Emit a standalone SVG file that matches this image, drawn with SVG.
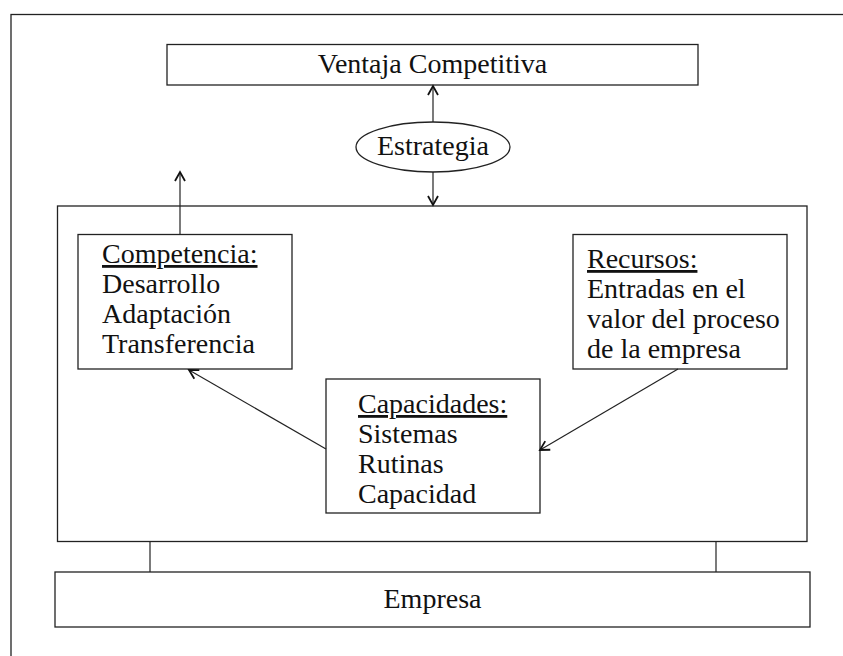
<svg xmlns="http://www.w3.org/2000/svg" width="843" height="656" viewBox="0 0 843 656">
  <style>
    .box { fill: #fff; stroke: #222; stroke-width: 1.3; }
    .frame { fill: none; stroke: #222; stroke-width: 1.3; }
    .link { fill: none; stroke: #222; stroke-width: 1.2; }
    text { font-family: 'Liberation Serif', 'Times New Roman', serif; font-size: 28px; fill: #111; }
    .mid { text-anchor: middle; }
    .head { text-decoration: underline; }
  </style>
  <defs>
    <marker id="open-arrow" markerWidth="12" markerHeight="12" refX="10" refY="6" orient="auto" markerUnits="userSpaceOnUse">
      <path d="M1,1 L10,6 L1,11" fill="none" stroke="#111" stroke-width="1.8"/>
    </marker>
  </defs>

  <rect width="843" height="656" fill="#fff"/>
  <!-- outer border, open past the right and bottom edges -->
  <rect class="frame" x="11" y="14.5" width="845" height="660"/>

  <g id="ventaja">
    <rect class="box" x="167" y="44.5" width="531" height="40.5"/>
    <text class="mid" x="432.5" y="73">Ventaja Competitiva</text>
  </g>

  <g id="estrategia">
    <ellipse class="box" cx="433" cy="147" rx="77" ry="25"/>
    <text class="mid" x="433" y="155">Estrategia</text>
  </g>

  <g id="contenedor">
    <rect class="box" x="57.5" y="206" width="749.5" height="335.5"/>
  </g>

  <g id="competencia">
    <rect class="box" x="78" y="234.5" width="214" height="134.5"/>
    <text x="102" y="263"><tspan class="head">Competencia:</tspan><tspan x="102" dy="30">Desarrollo</tspan><tspan x="102" dy="30">Adaptación</tspan><tspan x="102" dy="30">Transferencia</tspan></text>
  </g>

  <g id="recursos">
    <rect class="box" x="573" y="234.5" width="214" height="134.5"/>
    <text x="587" y="268"><tspan class="head">Recursos:</tspan><tspan x="587" dy="30">Entradas en el</tspan><tspan x="587" dy="30">valor del proceso</tspan><tspan x="587" dy="30">de la empresa</tspan></text>
  </g>

  <g id="capacidades">
    <rect class="box" x="326" y="379" width="214" height="134"/>
    <text x="358" y="413"><tspan class="head">Capacidades:</tspan><tspan x="358" dy="30">Sistemas</tspan><tspan x="358" dy="30">Rutinas</tspan><tspan x="358" dy="30">Capacidad</tspan></text>
  </g>

  <g id="empresa">
    <rect class="box" x="55" y="572" width="755" height="55"/>
    <text class="mid" x="432.5" y="608">Empresa</text>
  </g>

  <g id="conectores">
    <line class="link" x1="433" y1="122" x2="433" y2="86" marker-end="url(#open-arrow)"/>
    <line class="link" x1="433" y1="172" x2="433" y2="205" marker-end="url(#open-arrow)"/>
    <line class="link" x1="180" y1="234.5" x2="180" y2="172" marker-end="url(#open-arrow)"/>
    <line class="link" x1="326" y1="449" x2="189" y2="370" marker-end="url(#open-arrow)"/>
    <line class="link" x1="678" y1="369" x2="540" y2="450" marker-end="url(#open-arrow)"/>
    <line class="link" x1="150" y1="541.5" x2="150" y2="572"/>
    <line class="link" x1="716" y1="541.5" x2="716" y2="572"/>
  </g>
</svg>
